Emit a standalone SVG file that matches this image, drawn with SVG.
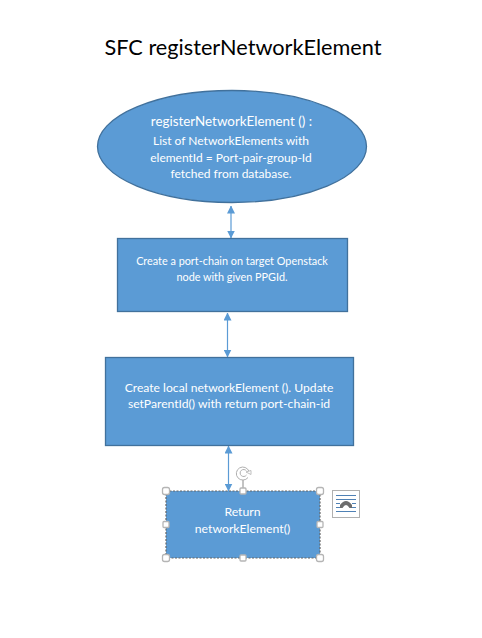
<svg xmlns="http://www.w3.org/2000/svg" width="482" height="638" viewBox="0 0 482 638">
<defs>
<marker id="ah" viewBox="0 0 8 8" refX="7.500" refY="4" markerWidth="8" markerHeight="8" markerUnits="userSpaceOnUse" orient="auto-start-reverse"><path d="M0 0L8 4L0 8Z" fill="#5b9bd5"/></marker>
</defs>
<style>
text{font-family:Lato,"Liberation Sans",sans-serif;fill:#fff;text-anchor:middle;font-size:12px}
.s{fill:#5b9bd5;stroke:#41719c;stroke-width:1.3}
.c{stroke:#5b9bd5;stroke-width:1.2;fill:none;marker-start:url(#ah);marker-end:url(#ah)}
.h{fill:#fff;stroke:#b5b5b5;stroke-width:1.300}
</style>
<rect width="482" height="638" fill="#fff"/>
<text id="title" x="243" y="55" style="font-size:21.700px;fill:#000">SFC registerNetworkElement</text>
<g id="connectors">
<line class="c" x1="231" y1="206" x2="231" y2="238"/>
<line class="c" x1="227.500" y1="313" x2="227.500" y2="357"/>
<line class="c" x1="228.500" y1="446" x2="228.500" y2="491"/>
</g>
<g id="node-ellipse">
<ellipse class="s" cx="232" cy="146.500" rx="134.500" ry="56"/>
<text x="231.500" y="126" style="font-size:13.400px">registerNetworkElement () :</text>
<text x="231" y="145">List of NetworkElements with</text>
<text x="231" y="162">elementId = Port-pair-group-Id</text>
<text x="231" y="178">fetched from database.</text>
</g>
<g id="node-portchain">
<rect class="s" x="117.500" y="238.500" width="230" height="73"/>
<text x="232" y="265" style="font-size:10.850px">Create a port-chain on target Openstack</text>
<text x="232" y="281" style="font-size:10.850px">node with given PPGId.</text>
</g>
<g id="node-local">
<rect class="s" x="105.500" y="357.500" width="248" height="88"/>
<text x="229" y="392" style="font-size:12.150px">Create local networkElement (). Update</text>
<text x="229" y="408" style="font-size:12.150px">setParentId() with return port-chain-id</text>
</g>
<g id="node-return">
<rect x="166" y="491" width="154" height="67" fill="#5b9bd5"/>
<rect x="166" y="491" width="154" height="67" fill="none" stroke="#666" stroke-width="1.200" stroke-dasharray="2 1.500"/>
<text x="242.500" y="516" style="font-size:12.250px">Return</text>
<text x="242.500" y="533" style="font-size:12.250px">networkElement()</text>
<g id="selection-handles">
<line x1="243" y1="480" x2="243" y2="491" stroke="#888" stroke-width="1"/>
<path d="M248 477.500A6.500 6.500 0 1 1 249 471.500" fill="none" stroke="#b0b0b0" stroke-width="1"/>
<path d="M246.500 475A3.500 3.500 0 1 1 246.500 471" fill="none" stroke="#b0b0b0" stroke-width="1"/>
<path d="M246 472L251 470.500V474.500Z" fill="#fff" stroke="#b0b0b0" stroke-width="0.800"/>
<rect class="h" x="162.500" y="487.500" width="7" height="7" rx="2"/>
<rect class="h" x="240" y="488" width="6" height="6" rx="1"/>
<rect class="h" x="316.500" y="487.500" width="7" height="7" rx="2"/>
<rect class="h" x="163" y="521.500" width="6" height="6" rx="1"/>
<rect class="h" x="317" y="521.500" width="6" height="6" rx="1"/>
<rect class="h" x="162.500" y="554.500" width="7" height="7" rx="2"/>
<rect class="h" x="240" y="555" width="6" height="6" rx="1"/>
<rect class="h" x="316.500" y="554.500" width="7" height="7" rx="2"/>
</g>
<g id="layout-icon">
<rect x="332.500" y="490.500" width="27" height="27" fill="#fff" stroke="#b0b0b0" stroke-width="1"/>
<path d="M336 495.500H356M336 499.500H356M336 503.500H340M352 503.500H356M336 507.500H340M352 507.500H356M336 511.500H356" stroke="#4f81b5" stroke-width="1" fill="none"/>
<path d="M340 508V505Q346 497 352 505V508H349.500Q346 502 342.500 508Z" fill="#6d6d6d"/>
</g>
</g>
</svg>
